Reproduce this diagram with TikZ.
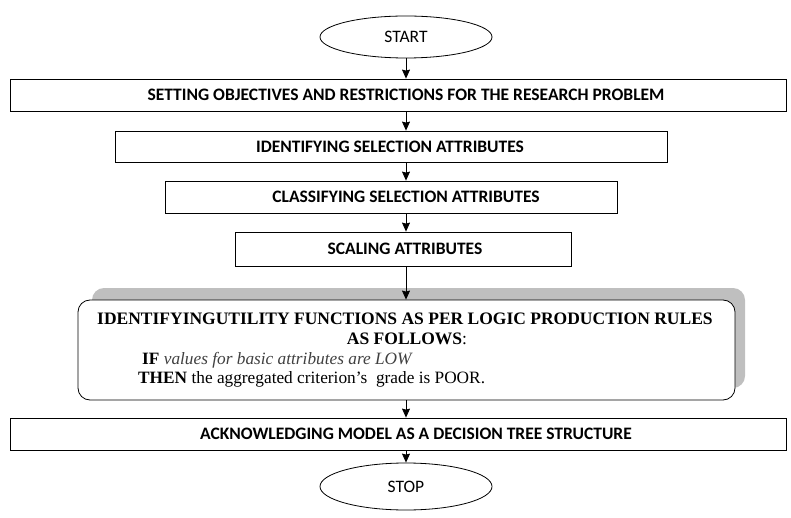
\documentclass[tikz,border=0pt]{standalone}
\usepackage{fontspec}
\setmainfont{Liberation Serif}
\newfontfamily\calfont{Carlito}
\usetikzlibrary{shapes.geometric,arrows.meta}
\begin{document}
\begin{tikzpicture}[x=1pt,y=-1pt,
  term/.style={draw,ellipse,line width=0.8pt,font=\calfont\fontsize{17.5}{20}\selectfont,inner sep=0pt},
  stepbox/.style={draw,rectangle,line width=0.8pt,inner sep=0pt},
  steptext/.style={inner sep=0pt,font=\calfont\bfseries\fontsize{17.5}{20}\selectfont},
  flow/.style={line width=0.8pt,-{Stealth[length=9pt,width=8pt,inset=1pt]}},
  txt/.style={inner sep=0pt,font=\fontsize{17.3}{20}\selectfont}]
\useasboundingbox (0,0) rectangle (791,518);
\node[term,minimum width=172pt,minimum height=42pt] (start) at (406,37) {START};
\node[stepbox,minimum width=776pt,minimum height=32pt] (b1) at (398,95) {};
\node[steptext] (t1) at (406,95) {SETTING OBJECTIVES AND RESTRICTIONS FOR THE RESEARCH PROBLEM};
\node[stepbox,minimum width=552pt,minimum height=31pt] (b2) at (391,146.5) {};
\node[steptext] (t2) at (390,146.5) {IDENTIFYING SELECTION ATTRIBUTES};
\node[stepbox,minimum width=452pt,minimum height=32pt] (b3) at (391,197) {};
\node[steptext] (t3) at (406,197) {CLASSIFYING SELECTION ATTRIBUTES};
\node[stepbox,minimum width=336pt,minimum height=34pt] (b4) at (403,249) {};
\node[steptext] (t4) at (405,249) {SCALING ATTRIBUTES};
\fill[gray!50,rounded corners=12pt] (92,288) rectangle (745,388);
\node[draw,rectangle,rounded corners=12pt,fill=white,line width=0.8pt,minimum width=657pt,minimum height=100pt] (b5) at (406.5,350) {};
\node[txt,font=\bfseries\fontsize{17.5}{20}\selectfont] (l1) at (405,319) {IDENTIFYINGUTILITY FUNCTIONS AS PER LOGIC PRODUCTION RULES};
\node[txt,font=\fontsize{17.5}{20}\selectfont] (l2) at (407,339) {\textbf{AS FOLLOWS}:};
\node[txt,anchor=west] (l3) at (142,360) {\textbf{IF} \textcolor{black!75}{\itshape values for basic attributes are LOW}};
\node[txt,anchor=west] (l4) at (138,379) {\textbf{THEN} the aggregated criterion’s\ \ grade is POOR.};
\node[stepbox,minimum width=776pt,minimum height=32pt] (b6) at (398,434) {};
\node[steptext] (t6) at (416,434) {ACKNOWLEDGING MODEL AS A DECISION TREE STRUCTURE};
\node[term,minimum width=172pt,minimum height=47pt] (stop) at (406,486.5) {STOP};
\draw[flow] (start.south) -- (start.south |- b1.north);
\draw[flow] (start.south |- b1.south) -- (start.south |- b2.north);
\draw[flow] (start.south |- b2.south) -- (start.south |- b3.north);
\draw[flow] (start.south |- b3.south) -- (start.south |- b4.north);
\draw[flow] (start.south |- b4.south) -- (start.south |- b5.north);
\draw[flow] (start.south |- b5.south) -- (start.south |- b6.north);
\draw[flow] (start.south |- b6.south) -- (stop.north);
\end{tikzpicture}
\end{document}
